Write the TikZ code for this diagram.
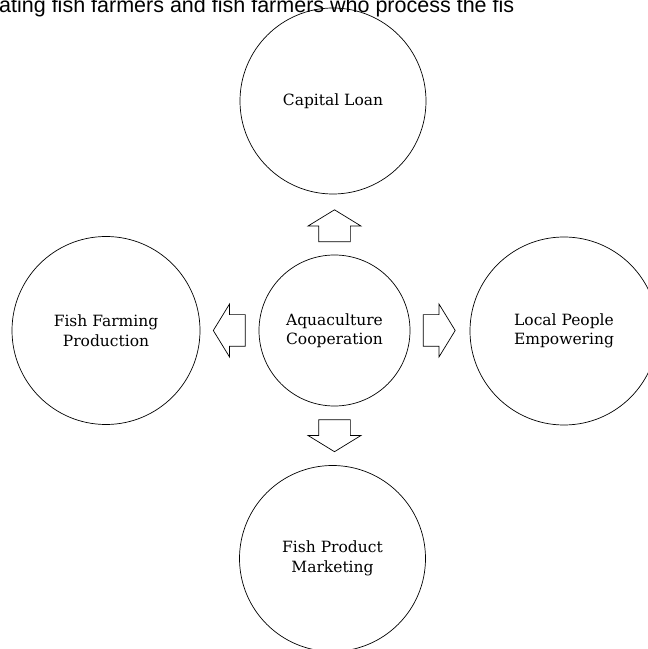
\documentclass[tikz,border=0pt]{standalone}
\usepackage{fontspec}
\setmainfont{DejaVu Serif}
\newfontfamily\capfont{Liberation Sans}
\usetikzlibrary{shapes.arrows,calc}

\begin{document}
\begin{tikzpicture}[x=1pt, y=1pt, main/.style = {draw, circle, line width=0.7pt, inner sep=0pt, align=center, font=\fontsize{15.5}{19.5}\selectfont}, blockarrow/.style = {draw, single arrow, line width=0.7pt, inner xsep=0pt, inner ysep=15.5pt, minimum height=32pt, single arrow head extend=10.5pt, single arrow tip angle=117, anchor=tail}]
    \clip (0,0) rectangle (648,649);
    \node[anchor=base west, inner sep=0pt, font=\capfont\fontsize{21.5}{24}\selectfont] (caption) at (-1,636.5) {ating fish farmers and fish farmers who process the fis};

    \node[main, minimum size=151pt] (coop) at (334.5,318.5) {Aquaculture\\Cooperation};
    \node[main, minimum size=186pt] (loan) at (333,548) {Capital Loan};
    \node[main, minimum size=188pt] (farming) at (106,318.5) {Fish Farming\\Production};
    \node[main, minimum size=188pt] (empower) at (564,318) {Local People\\Empowering};
    \node[main, minimum size=186pt] (market) at (332.5,90.5) {Fish Product\\Marketing};

    \node[blockarrow, rotate=90] (toloan) at ($(coop.north)+(0,12.5)$) {};
    \node[blockarrow, rotate=180] (tofarming) at ($(coop.west)+(-13,0)$) {};
    \node[blockarrow] (toempower) at ($(coop.east)+(12.5,0)$) {};
    \node[blockarrow, rotate=-90] (tomarket) at ($(coop.south)+(0,-13)$) {};

\end{tikzpicture}
\end{document}
